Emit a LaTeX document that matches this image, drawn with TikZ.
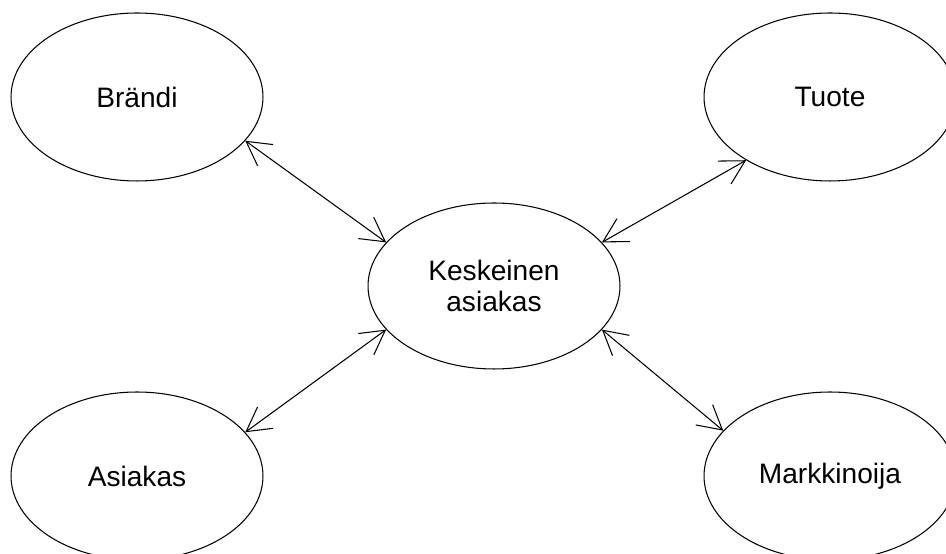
\documentclass[tikz,border=0pt]{standalone}
\usepackage{fontspec}
\setmainfont{Liberation Sans}
\usepackage{tikz}
\usetikzlibrary{arrows.meta,shapes.geometric}

\begin{document}
\begin{tikzpicture}[line cap=round,line join=round,>={Straight Barb[length=13.5pt,width=15pt]},x=0.02cm,y=0.02cm,
  pallo/.style={draw=black,line width=0.6pt,ellipse,minimum width=5.04cm,minimum height=3.36cm,inner sep=0pt,align=center,font=\fontsize{16}{18}\selectfont},
  nuoli/.style={<->,line width=0.6pt}]
\useasboundingbox (0,0) rectangle (946,554);
\clip (0,0) rectangle (946,554);
\node[pallo] (brandi) at (137,457) {Brändi};
\node[pallo] (tuote) at (830,457) {Tuote};
\node[pallo,minimum height=3.32cm] (keskeinen) at (494,268) {Keskeinen\\asiakas};
\node[pallo] (asiakas) at (137,78) {Asiakas};
\node[pallo] (markkinoija) at (830,78) {Markkinoija};
\draw[nuoli] (brandi.-22) -- (keskeinen.158);
\draw[nuoli] (tuote.-143) -- (keskeinen.22);
\draw[nuoli] (asiakas.22) -- (keskeinen.-158);
\draw[nuoli] (markkinoija.157) -- (keskeinen.-22);
\end{tikzpicture}
\end{document}
